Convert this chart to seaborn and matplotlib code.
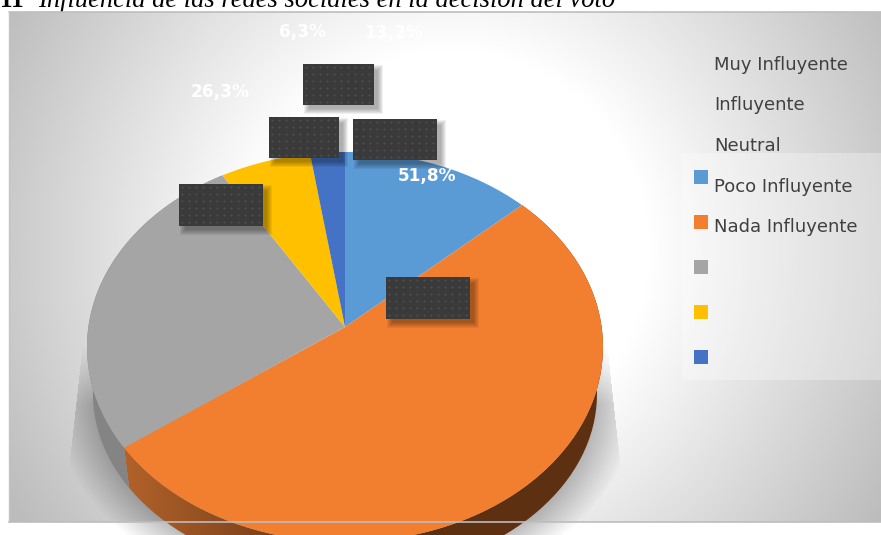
import numpy as np
import matplotlib
matplotlib.use("Agg")
import matplotlib.pyplot as plt
import seaborn as sns
from matplotlib.patches import PathPatch, Rectangle
from matplotlib.path import Path
from matplotlib.transforms import Transform

# Survey shares, clockwise from twelve o'clock
categories = ["Muy Influyente", "Influyente", "Neutral", "Poco Influyente", "Nada Influyente"]
shares = [13.2, 51.8, 26.3, 6.3, 2.4]
slice_colors = ["#5B9BD5", "#F27F30", "#A5A5A5", "#FFC000", "#4472C4"]
share_labels = ["51,8%", "13,2%", "6,3%", "26,3%"]
caption_number = "11"
caption_text = "Influencia de las redes sociales en la decisión del voto"

W, H = 881, 535
sns.set_theme(style="white")
palette = sns.color_palette(slice_colors)


class DiscProjection(Transform):
    """Tilted-disc projection: unit circle to a screen ellipse with a displaced centre."""
    input_dims = output_dims = 2
    is_affine = False
    has_inverse = False

    def __init__(self, cx, cy, rx, ry, tilt):
        super().__init__()
        self.cx, self.cy, self.rx, self.ry, self.tilt = cx, cy, rx, ry, tilt

    def transform_non_affine(self, values):
        values = np.asarray(values, float)
        u, v = values[:, 0], values[:, 1]
        w = 1 + self.tilt * v
        a = self.rx * np.sqrt(1 - self.tilt ** 2)
        return np.column_stack([
            self.cx + a * u / w,
            self.cy - self.ry * (v + self.tilt) / w,
        ])


top_face = DiscProjection(345, 347, 258, 195, 0.1026)
base_face = DiscProjection(345, 394, 252, 182, 0.1026)

fig = plt.figure(figsize=(W / 100, H / 100), dpi=100, facecolor="white")
ax = fig.add_axes([0, 0, 1, 1])

# Pie slices on the tilted top face
wedges, _ = ax.pie(shares, colors=palette, startangle=90, counterclock=False, radius=1)
for wedge in wedges:
    wedge.set_transform(top_face + ax.transData)
    wedge.set_linewidth(0)
    wedge.set_zorder(4)

ax.set_aspect("auto")
ax.set_xlim(0, W)
ax.set_ylim(H, 0)
ax.axis("off")
extent = (0, W, H, 0)
yy, xx = np.mgrid[0:H, 0:W] + 0.5

# Caption line, cut by the top of the page
ax.text(0, 7, caption_number, family="Liberation Serif", weight="bold", size=18,
        color="black", va="baseline", zorder=1)
ax.text(38, 7, caption_text, family="Liberation Serif", style="italic", size=19.1,
        color="black", va="baseline", zorder=1)

# Chart area with radial grey fade
r = np.hypot(xx - 450, yy - 250)
level = 1 - 0.26 * np.clip((r - 200) / 305, 0, 1)
bg = np.dstack([level, level, level, np.ones_like(level)])
bg[(xx < 9) | (yy < 12) | (yy > 522), 3] = 0
ax.imshow(bg, extent=extent, aspect="auto", zorder=2, interpolation="bilinear")

# Soft shadow under the pie, sharply cut along its upper flanks
d = (np.hypot((xx - 345) / 252, (yy - 394) / 182) - 1) * 215
fade = np.clip(1 - d / 36, 0, 1)
flank = (np.abs(xx - 345) < 265 + (yy - 370) * 0.11) * np.clip((yy - 345) / 60, 0, 1)
shadow = np.zeros((H, W, 4))
shadow[..., 3] = 0.26 * fade * flank
ax.imshow(shadow, extent=extent, aspect="auto", zorder=2.2, interpolation="bilinear")

# Legend panel
ax.add_patch(Rectangle((682, 153), 199, 227, facecolor="white", alpha=0.3, lw=0, zorder=2.4))

# Pie rim: ribbons between the top and base outlines
fractions = np.cumsum([0] + shares) / np.sum(shares)


def rim_polygon(start, stop):
    theta = np.linspace(start, stop, 160) * 2 * np.pi
    circle = np.column_stack([np.sin(theta), np.cos(theta)])
    return np.vstack([top_face.transform_non_affine(circle),
                      base_face.transform_non_affine(circle)[::-1]])


t = np.clip((xx - 125) / 225, 0, 1)[..., None]
rim_orange = np.array([178, 98, 42]) / 255 * (1 - t) + np.array([94, 48, 18]) / 255 * t
rim_image = ax.imshow(rim_orange, extent=extent, aspect="auto", zorder=3)
clip = PathPatch(Path(rim_polygon(fractions[1], fractions[2])), transform=ax.transData)
rim_image.set_clip_path(clip)
ax.fill(*rim_polygon(fractions[2], fractions[3]).T, color="#848484", lw=0, zorder=3)
ax.set_xlim(0, W)
ax.set_ylim(H, 0)

# Frame lines; the lower one runs across the rim
ax.plot([9, W], [11.5, 11.5], color="#bdbdbd", lw=1.2, zorder=5)
ax.plot([9, 9], [11.5, 522], color="#c4c4c4", lw=1, zorder=5)
ax.plot([9, W], [522, 522], color="#bdbdbd", lw=1.4, alpha=0.85, zorder=5)

# Share labels
label_spots = [(427, 176), (394, 33), (303, 32), (220, 92)]
for text, (x, y) in zip(share_labels, label_spots):
    ax.text(x, y, text, color="white", weight="bold", size=12.2, ha="center", va="center", zorder=6)

# Dark callout plates with drop shadow and dot texture
plates = [(303, 64, 71, 41), (269, 117, 70, 41), (353, 119, 84, 41),
          (179, 184, 84, 42), (386, 277, 84, 42)]
for x, y, w, h in plates:
    for grow in range(6):
        ax.add_patch(Rectangle((x + 6 - grow, y + 6 - grow), w + 2 * grow - 2, h + 2 * grow - 2,
                               facecolor="black", alpha=0.06, lw=0, zorder=6.5))
    ax.add_patch(Rectangle((x, y), w, h, facecolor="#3A3A3A", lw=0, zorder=7))
    dx, dy = np.meshgrid(np.arange(x + 3, x + w - 1, 7), np.arange(y + 3, y + h - 1, 7))
    ax.scatter(dx, dy, s=2.2, color="#505050", lw=0, zorder=7.5)

# Legend keys and entries
key_rows = [170, 215, 260, 305, 350]
text_rows = [65, 105, 146, 187, 227]
for row, color in zip(key_rows, palette):
    ax.add_patch(Rectangle((694, row), 14, 14, facecolor=color, lw=0, zorder=6))
for row, name in zip(text_rows, categories):
    ax.text(714, row, name, color="#404040", size=13, ha="left", va="center", zorder=6)

fig.savefig("out.png", dpi=100, facecolor="white")
